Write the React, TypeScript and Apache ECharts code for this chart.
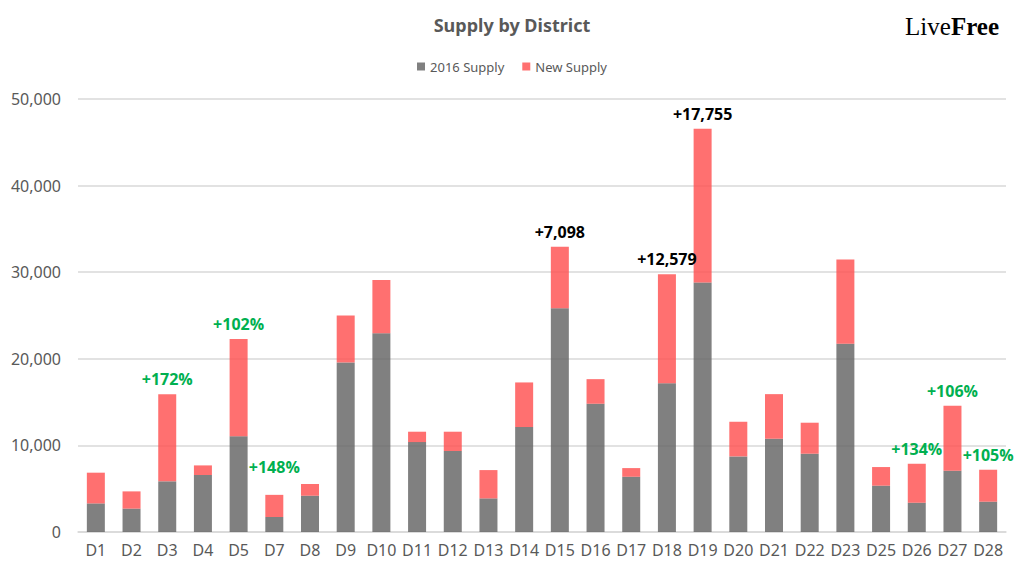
import { useEffect, useRef } from "react";
import * as echarts from "echarts";

const districts = [
  "D1", "D2", "D3", "D4", "D5", "D7", "D8", "D9", "D10", "D11", "D12", "D13", "D14",
  "D15", "D16", "D17", "D18", "D19", "D20", "D21", "D22", "D23", "D25", "D26", "D27", "D28",
];

const supply2016 = [
  3300, 2700, 5850, 6580, 11050, 1730, 4190, 19580, 22960, 10380, 9350, 3880, 12120,
  25850, 14810, 6380, 17190, 28800, 8730, 10770, 9040, 21730, 5350, 3380, 7080, 3500,
];

const newSupply = [
  3550, 1990, 10070, 1110, 11250, 2560, 1350, 5420, 6140, 1200, 2230, 3270, 5150,
  7098, 2840, 1000, 12579, 17755, 4000, 5150, 3580, 9730, 2150, 4500, 7500, 3690,
];

// callouts above the stacks: "" = none
const callouts = [
  "", "", "+172%", "", "+102%", "+148%", "", "", "", "", "", "", "",
  "+7,098", "", "", "+12,579", "+17,755", "", "", "", "", "", "+134%", "+106%", "+105%",
];

const yTicks = [0, 10000, 20000, 30000, 40000, 50000];

const GRAY = "rgba(100,100,100,0.82)";
const RED = "rgba(255,80,80,0.82)";
const GREEN = "#00B050";
const TEXT = "#595959";

export default function App() {
  const ref = useRef<HTMLDivElement | null>(null);

  useEffect(() => {
    const el = ref.current;
    if (!el) return;
    const chart = echarts.init(el, null, { renderer: "svg" });

    const newData = newSupply.map((v, i) => {
      const text = callouts[i];
      if (!text) return v;
      return {
        value: v,
        label: {
          show: true,
          position: "top",
          formatter: text,
          distance: districts[i] === "D7" ? 20 : 7,
          color: text.endsWith("%") ? GREEN : "#000000",
          fontSize: 16,
          fontWeight: "bold",
          fontFamily: "Open Sans",
        },
      };
    });

    chart.setOption({
      animation: false,
      backgroundColor: "#ffffff",
      textStyle: { fontFamily: "Noto Sans" },
      title: {
        text: "Supply by District",
        left: "center",
        top: 11,
        textStyle: { color: TEXT, fontSize: 18, fontWeight: "bold", fontFamily: "Noto Sans" },
      },
      legend: {
        top: 55,
        left: "center",
        icon: "rect",
        itemWidth: 8,
        itemHeight: 8,
        itemGap: 18,
        textStyle: { color: TEXT, fontSize: 13 },
        data: ["2016 Supply", "New Supply"],
      },
      graphic: [
        {
          type: "text",
          right: 25,
          top: 14,
          style: {
            text: "{a|Live}{b|Free}",
            rich: {
              a: { fontFamily: "Liberation Serif", fontSize: 25, fill: "#000" },
              b: { fontFamily: "Liberation Serif", fontSize: 25, fontWeight: "bold", fill: "#000" },
            },
          },
        },
      ],
      grid: { left: 78, right: 18, top: 99, bottom: 44, containLabel: false },
      xAxis: {
        type: "category",
        data: districts,
        axisLine: { lineStyle: { color: "#d9d9d9", width: 1.5 } },
        axisTick: { show: false },
        axisLabel: { color: TEXT, fontSize: 16, margin: 10, interval: 0 },
      },
      yAxis: {
        type: "value",
        min: yTicks[0],
        max: yTicks[yTicks.length - 1],
        interval: yTicks[1] - yTicks[0],
        axisLine: { show: false },
        axisTick: { show: false },
        splitLine: { lineStyle: { color: "#d9d9d9", width: 1.5 } },
        axisLabel: {
          color: TEXT,
          fontSize: 16,
          margin: 17,
          formatter: (v: number) => v.toLocaleString("en-US"),
        },
      },
      series: [
        {
          name: "2016 Supply",
          type: "bar",
          stack: "s",
          barWidth: 18,
          data: supply2016,
          itemStyle: { color: GRAY },
        },
        {
          name: "New Supply",
          type: "bar",
          stack: "s",
          barWidth: 18,
          data: newData,
          itemStyle: { color: RED },
        },
      ],
    });

    return () => chart.dispose();
  }, []);

  return (
    <div
      ref={ref}
      style={{ position: "fixed", left: 0, top: 0, width: 1024, height: 576 }}
    />
  );
}
